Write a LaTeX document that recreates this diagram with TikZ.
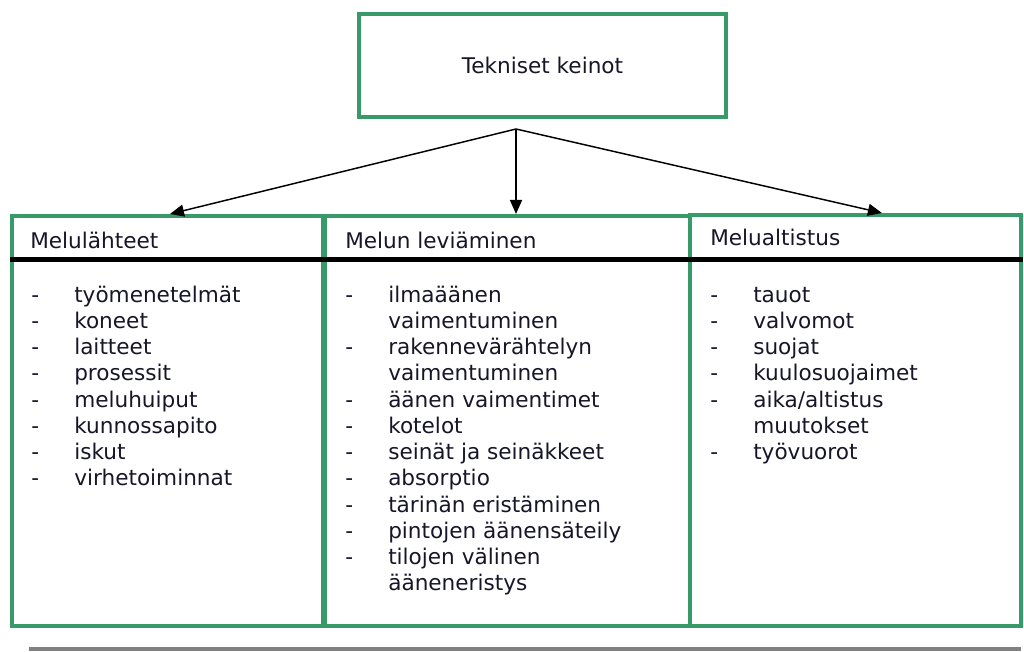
\documentclass[tikz,border=0pt]{standalone}
\usepackage{fontspec}
\setmainfont{DejaVu Sans}
\usetikzlibrary{arrows.meta}
\definecolor{keinogreen}{RGB}{56,154,104}
\definecolor{tekstic}{RGB}{22,22,40}
\newcommand{\luettelo}[1]{\begin{tabular}[t]{@{}p{32.25pt}@{}l@{}}#1\end{tabular}}

\begin{document}
\begin{tikzpicture}[x=0.75pt, y=-0.75pt, every node/.style={font=\fontsize{16.2}{19.7}\selectfont, text=tekstic}, >={Triangle[length=10.5pt, width=9pt]},
	box/.style={draw=keinogreen, line width=3pt, inner sep=0pt},
	list/.style={anchor=base west, inner sep=0pt}]
	\useasboundingbox (0,0) rectangle (1024,652);
	\node[box, minimum width=275.25pt, minimum height=77.25pt] (keinot) at (542.5,65.5) {Tekniset keinot};
	\node[box, minimum width=233.25pt, minimum height=307.5pt] (lahde) at (167,421) {};
	\node[box, minimum width=273.75pt, minimum height=307.5pt] (levia) at (507.5,421) {};
	\node[box, minimum width=247.9pt, minimum height=308.25pt] (altist) at (855.25,420.5) {};
	\coordinate (haara) at (516,129);
	\draw[->, line width=1.1pt] (haara) -- ([xshift=2.25pt]lahde.north);
	\draw[->, line width=1.1pt] (haara) -- (haara |- levia.north);
	\draw[->, line width=1.1pt] (haara) -- ([xshift=20pt]altist.north);
	\draw[line width=3.5pt] (lahde.west |- 0,259.5) -- (altist.east |- 0,259.5);
	\draw[gray, line width=3pt] (29,649) -- (1021,649);
	% otsikot
	\node[list] (otsL) at (30,248) {Melulähteet};
	\node[list] (otsM) at (345,248) {Melun leviäminen};
	\node[list] (otsR) at (710,246) {Melualtistus};
	% luettelot
	\node[list] (listaL) at (31,302) {\luettelo{
		-&työmenetelmät\\ -&koneet\\ -&laitteet\\ -&prosessit\\
		-&meluhuiput\\ -&kunnossapito\\ -&iskut\\ -&virhetoiminnat}};
	\node[list] (listaM) at (345,302) {\luettelo{
		-&ilmaäänen\\ &vaimentuminen\\ -&rakennevärähtelyn\\ &vaimentuminen\\
		-&äänen vaimentimet\\ -&kotelot\\ -&seinät ja seinäkkeet\\ -&absorptio\\
		-&tärinän eristäminen\\ -&pintojen äänensäteily\\ -&tilojen välinen\\ &ääneneristys}};
	\node[list] (listaR) at (710,302) {\luettelo{
		-&tauot\\ -&valvomot\\ -&suojat\\ -&kuulosuojaimet\\
		-&aika/altistus\\ &muutokset\\ -&työvuorot}};
\end{tikzpicture}
\end{document}
